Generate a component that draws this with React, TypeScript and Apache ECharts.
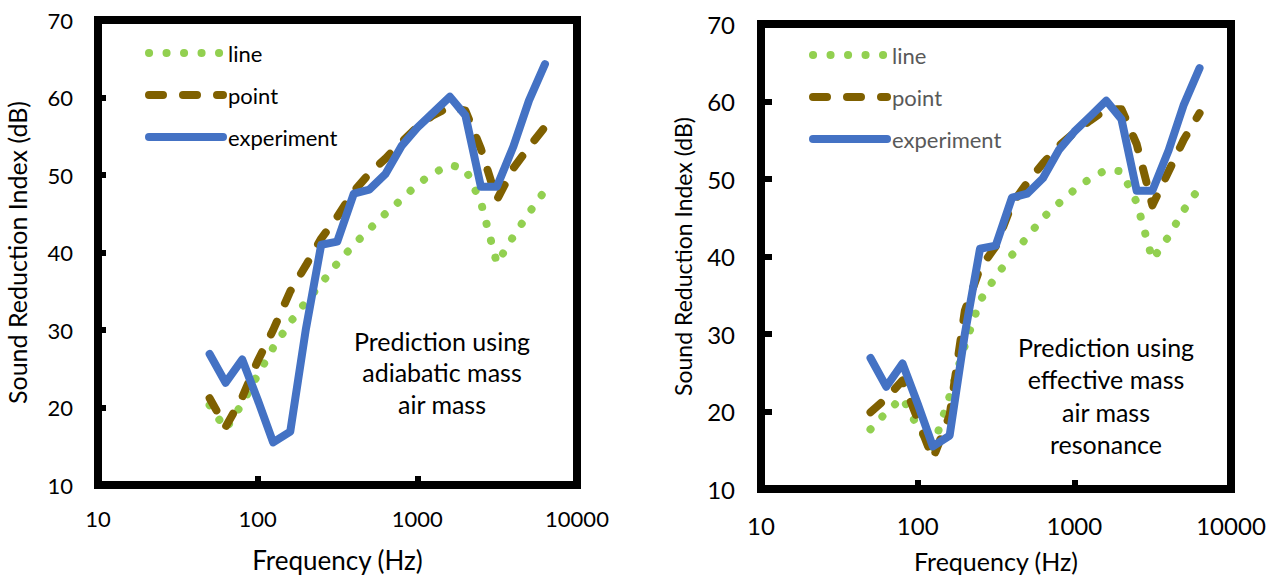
import React, { useEffect, useRef } from "react";
import * as echarts from "echarts";

// 1/3-octave band centre frequencies (Hz)
const freq = [50, 63, 80, 100, 125, 160, 200, 250, 315, 400, 500, 630, 800, 1000, 1250, 1600, 2000, 2500, 3150, 4000, 5000, 6300];

// measured (same in both panels)
const experiment = [26.9, 23.2, 26.2, 21.0, 15.5, 16.9, 30.0, 41.0, 41.4, 47.6, 48.1, 50.1, 53.8, 56.1, 58.0, 60.1, 57.7, 48.5, 48.5, 53.7, 59.6, 64.3];

// left panel: adiabatic mass / air mass
const lineLeft = [20.3, 17.2, 20.5, 24.2, 27.7, 31.0, 33.6, 36.0, 38.6, 41.0, 43.0, 45.0, 46.9, 48.8, 50.2, 51.3, 50.8, 46.5, 38.6, 42.1, 45.1, 48.0];
const pointLeft = [21.2, 17.5, 21.3, 26.0, 30.0, 35.0, 38.3, 41.8, 44.6, 47.9, 50.2, 52.1, 54.3, 56.2, 57.7, 58.8, 58.3, 53.4, 46.8, 50.9, 53.6, 56.2];

// right panel: effective mass / air mass / resonance
const lineRight = [17.7, 19.9, 21.8, 18.0, 15.3, 22.0, 28.5, 34.3, 37.4, 40.2, 42.5, 45.0, 46.9, 48.6, 50.0, 51.2, 51.0, 47.0, 39.6, 42.6, 46.0, 48.9];
const pointRight = [19.9, 21.7, 24.0, 19.0, 13.9, 19.5, 33.0, 38.5, 41.3, 46.8, 49.5, 52.0, 54.3, 56.0, 57.5, 59.0, 59.0, 54.5, 46.6, 51.0, 55.1, 58.5];

const seriesNames = ["line", "point", "experiment"];
const noteLeft = ["Prediction using", "adiabatic mass", "air mass"];
const noteRight = ["Prediction using", "effective mass", "air mass", "resonance"];

const GREEN = "#92D050";
const BROWN = "#7F6000";
const BLUE = "#4472C4";
const FONT = "Lato";

const pairs = (vals: number[]) => freq.map((f, i) => [f, vals[i]]);

export default function App() {
  const ref = useRef<HTMLDivElement>(null);
  useEffect(() => {
    if (!ref.current) return;
    const chart = echarts.init(ref.current, undefined, { renderer: "svg" });

    const mkSeries = (idx: number, line: number[], point: number[]) => [
      {
        name: seriesNames[0],
        type: "line",
        xAxisIndex: idx,
        yAxisIndex: idx,
        data: pairs(line),
        symbol: "none",
        itemStyle: { color: GREEN },
        lineStyle: { color: GREEN, width: 8, type: [0.1, 17.4], cap: "round", join: "round" },
        z: 2,
      },
      {
        name: seriesNames[1],
        type: "line",
        xAxisIndex: idx,
        yAxisIndex: idx,
        data: pairs(point),
        symbol: "none",
        itemStyle: { color: BROWN },
        lineStyle: { color: BROWN, width: 8, type: [14, 20], cap: "round", join: "round" },
        z: 3,
      },
      {
        name: seriesNames[2],
        type: "line",
        xAxisIndex: idx,
        yAxisIndex: idx,
        data: pairs(experiment),
        symbol: "none",
        itemStyle: { color: BLUE },
        lineStyle: { color: BLUE, width: 8, cap: "round", join: "round" },
        z: 4,
      },
    ];

    const mkX = (idx: number, fs: number, nameFs: number, margin: number, nameGap: number) => ({
      type: "log",
      logBase: 10,
      gridIndex: idx,
      min: 10,
      max: 10000,
      name: "Frequency (Hz)",
      nameLocation: "middle",
      nameGap,
      nameTextStyle: { fontFamily: FONT, fontSize: nameFs, color: "#000" },
      axisLine: { show: false },
      axisTick: { show: true, inside: true, length: 9, lineStyle: { color: "#000", width: 6 } },
      axisLabel: {
        fontFamily: FONT,
        fontSize: fs,
        color: "#000",
        margin,
        formatter: (v: number) => String(Math.round(v)),
      },
      splitLine: { show: false },
      minorTick: { show: false },
    });

    const mkY = (idx: number, fs: number, nameFs: number, margin: number, nameGap: number, tickLen: number) => ({
      type: "value",
      gridIndex: idx,
      min: 10,
      max: 70,
      interval: 10,
      name: "Sound Reduction Index (dB)",
      nameLocation: "middle",
      nameGap,
      nameTextStyle: { fontFamily: FONT, fontSize: nameFs, color: "#000" },
      axisLine: { show: false },
      axisTick: { show: true, inside: true, length: tickLen, lineStyle: { color: "#000", width: 6 } },
      axisLabel: { fontFamily: FONT, fontSize: fs, color: "#000", margin },
      splitLine: { show: false },
    });

    const mkLegend = (left: number, top: number, color: string) => ({
      orient: "vertical",
      left,
      top,
      itemWidth: 74,
      itemHeight: 24,
      itemGap: 20,
      data: seriesNames,
      selectedMode: false,
      textStyle: { fontFamily: FONT, fontSize: 22, color },
      itemStyle: { color: "rgba(0,0,0,0)", borderWidth: 0 },
      lineStyle: { width: "inherit", type: "inherit", cap: "inherit" },
    });

    chart.setOption({
      animation: false,
      backgroundColor: "#fff",
      grid: [
        { left: 98, top: 20, width: 479, height: 471, show: true, borderColor: "#000", borderWidth: 8, backgroundColor: "transparent", containLabel: false },
        { left: 761, top: 24, width: 470, height: 468, show: true, borderColor: "#000", borderWidth: 8, backgroundColor: "transparent", containLabel: false },
      ],
      xAxis: [mkX(0, 22, 26, 22, 62), mkX(1, 24, 25, 24, 59)],
      yAxis: [mkY(0, 22, 25, 25, 69, 8), mkY(1, 24, 23, 26, 67, 11)],
      legend: [mkLegend(140, 37, "#000"), mkLegend(804, 39, "#595959")],
      series: [...mkSeries(0, lineLeft, pointLeft), ...mkSeries(1, lineRight, pointRight)],
      graphic: [
        {
          type: "text",
          x: 442,
          y: 372,
          z: 10,
          style: {
            text: noteLeft.join("\n"),
            fontFamily: FONT,
            fontSize: 25,
            lineHeight: 31.5,
            fill: "#000",
            textAlign: "center",
            textVerticalAlign: "middle",
          },
        },
        {
          type: "text",
          x: 1106,
          y: 395.5,
          z: 10,
          style: {
            text: noteRight.join("\n"),
            fontFamily: FONT,
            fontSize: 25,
            lineHeight: 32.5,
            fill: "#000",
            textAlign: "center",
            textVerticalAlign: "middle",
          },
        },
      ],
    });
    return () => chart.dispose();
  }, []);
  return <div ref={ref} style={{ position: "absolute", left: 0, top: 0, width: 1281, height: 578 }} />;
}
